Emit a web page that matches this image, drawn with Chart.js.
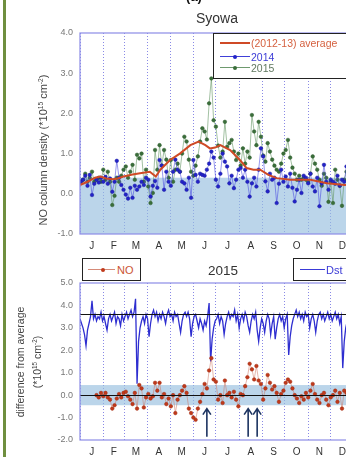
<!DOCTYPE html>
<html>
<head>
<meta charset="utf-8">
<script src="https://cdn.jsdelivr.net/npm/chart.js@4.4.0/dist/chart.umd.min.js"></script>
<style>
body { margin:0; width:346px; height:457px; overflow:hidden; position:relative; background:#fff; font-family:"Liberation Sans", Arial, sans-serif; }
canvas { position:absolute; left:0; }
.t { position:absolute; white-space:nowrap; }
.c { transform:translate(-50%,-50%); }
.rot { transform:translate(-50%,-50%) rotate(-90deg); }
.box { position:absolute; box-sizing:border-box; border:1.5px solid #222; background:#fff; }
.ln { position:absolute; }
.dot { position:absolute; width:4px; height:4px; border-radius:50%; }
.lt { position:absolute; white-space:nowrap; transform:translateY(-50%); }
sup { font-size:0.6em; vertical-align:0.6em; line-height:0; }
</style>
</head>
<body>
<canvas id="topChart" width="372" height="256" style="top:0"></canvas>
<canvas id="botChart" width="372" height="201" style="top:256px"></canvas>

<div style="position:absolute; left:3px; top:0; width:2.5px; height:457px; background:#6f8f3f"></div>
<div class="t" style="left:194px; top:-11px; transform:translateX(-50%); font-size:13px; font-weight:bold; color:#111">(a)</div>
<div class="t c" style="left:217px; top:18px; font-size:14px; color:#333">Syowa</div>
<div class="t rot" style="left:43px; top:150px; font-size:11px; color:#444">NO column density (*10<sup>15</sup> cm<sup>-2</sup>)</div>

<div class="box" style="left:213px; top:33px; width:150px; height:46px;">
  <div class="ln" style="left:6px; top:7.5px; width:30px; height:2.5px; background:#cf4a26"></div>
  <div class="lt" style="left:37px; top:9px; font-size:10.5px; color:#d5603f">(2012-13) average</div>
  <div class="ln" style="left:6px; top:22px; width:30px; height:1px; background:#4040d8"></div>
  <div class="dot" style="left:19px; top:20.5px; background:#2323c8"></div>
  <div class="lt" style="left:37px; top:22.5px; font-size:10.5px; color:#3b3bd6">2014</div>
  <div class="ln" style="left:6px; top:33px; width:30px; height:1px; background:#6e9a6e"></div>
  <div class="dot" style="left:19px; top:31.5px; background:#3a6e3a"></div>
  <div class="lt" style="left:37px; top:33.5px; font-size:10.5px; color:#607860">2015</div>
</div>

<div class="box" style="left:82px; top:258px; width:59px; height:23px;">
  <div class="ln" style="left:4.5px; top:10px; width:27px; height:1px; background:#d58a78"></div>
  <div class="dot" style="left:17.5px; top:8.5px; background:#c0391b"></div>
  <div class="lt" style="left:34px; top:10.5px; font-size:11px; color:#cc5533">NO</div>
</div>
<div class="t c" style="left:223px; top:270px; font-size:13.5px; color:#333">2015</div>
<div class="box" style="left:293px; top:258px; width:80px; height:23px;">
  <div class="ln" style="left:5.5px; top:10px; width:25px; height:1px; background:#3a3ad8"></div>
  <div class="lt" style="left:32px; top:10.5px; font-size:11px; color:#3b3bd6">Dst</div>
</div>

<div class="t rot" style="left:20px; top:362px; font-size:10.5px; color:#444">difference from average</div>
<div class="t rot" style="left:37px; top:362px; font-size:10.5px; color:#444">(*10<sup>15</sup> cm<sup>-2</sup>)</div>

<script>
Chart.defaults.font.family = '"Liberation Sans", Arial, sans-serif';

const monthStarts = [0, 31, 59, 90, 120, 151, 181, 212, 243, 273, 304, 334, 365];
const monthMids = [15.5, 45, 74.5, 105, 135.5, 166, 196.5, 227.5, 258, 288.5, 319, 349.5];
const monthLabels = ['J', 'F', 'M', 'A', 'M', 'J', 'J', 'A', 'S', 'O', 'N', 'D'];

// (2012-13) average, day of year / value
const avgDays = [0, 10, 20, 27, 35, 44, 50, 58, 70, 80, 93, 101, 107, 120, 133, 147, 158, 167, 173, 180, 187, 200, 213, 222, 231, 240, 251, 262, 280, 307, 329, 353, 365];
const avgVals = [0.22, 0.3, 0.4, 0.43, 0.38, 0.36, 0.38, 0.43, 0.48, 0.51, 0.55, 0.43, 0.6, 0.84, 1.0, 1.21, 1.3, 1.21, 1.13, 1.15, 1.21, 1.09, 0.84, 0.64, 0.6, 0.6, 0.47, 0.39, 0.35, 0.35, 0.26, 0.22, 0.25];

// NO column density, one value every 3 days from day 1
const noStart = 1, noStep = 3;
const no2014 = [
  0.30, 0.35, 0.45, 0.20, 0.47, -0.03, 0.25, 0.35, 0.28, 0.40,
  0.30, 0.42, 0.25, 0.38, 0.05, 0.30, 0.82, 0.40, 0.22, 0.10,
  -0.02, -0.12, 0.15, -0.10, 0.20, 0.10, 0.18, 0.30, 0.22, 0.40,
  0.35, -0.07, 0.20, 0.32, 0.15, 0.84, 0.70, 0.10, 0.55, 0.30,
  0.20, 0.55, 0.85, 0.60, 0.55, 0.30, 0.26, 0.10, 0.40, -0.10,
  0.84, 0.47, 0.30, 0.50, 0.47, 0.45, 0.60, 0.75, 1.05, 0.90,
  0.35, 0.18, 0.50, 1.00, 0.80, 0.68, 0.26, 0.45, 0.14, 0.35,
  0.60, 0.64, 0.40, 0.60, 0.30, -0.07, 0.26, 0.40, 0.18, 0.60,
  1.13, 0.93, 0.31, 0.06, 0.50, 0.35, 0.40, -0.23, 0.25, 0.60,
  0.30, 0.43, 0.18, 0.50, 0.15, -0.19, 0.10, 0.35, 0.02, 0.45,
  0.40, 0.26, 0.50, 0.18, 0.06, 0.40, -0.31, 0.26, 0.72, 0.30,
  0.10, 0.35, 0.30, 0.25, 0.45, 0.20, 0.35, 0.30, 0.68, 0.40,
  0.72, 0.50
];
const no2015 = [
  0.30, 0.35, 0.50, 0.30, 0.40, 0.55, 0.30, 0.35, 0.40, 0.30,
  0.60, 0.35, 0.55, 0.30, -0.28, -0.05, 0.40, 0.30, 0.45, 0.60,
  0.68, 0.40, 0.55, 0.72, 0.35, 0.97, 0.88, 1.00, 0.30, 0.60,
  0.18, -0.23, 0.02, 1.09, 0.60, 1.21, 0.70, 1.09, 0.85, 0.40,
  0.84, 0.30, 0.60, 0.75, 0.55, 1.00, 1.42, 1.30, 0.85, 0.55,
  0.45, 0.70, 0.93, 1.30, 1.63, 1.55, 1.35, 2.25, 2.87, 1.83,
  1.67, 1.20, 0.90, 1.05, 1.79, 1.17, 1.26, 1.34, 1.05, 0.84,
  1.00, 0.70, 1.13, 0.75, 1.05, 0.90, 1.96, 1.55, 1.21, 1.79,
  1.42, 0.95, 0.80, 1.26, 1.05, 0.85, 0.70, 0.60, 0.55, 0.75,
  1.00, 1.09, 1.34, 0.90, 0.65, 0.50, 0.35, 0.45, 0.35, 0.40,
  0.35, 0.30, 0.50, 0.93, 0.75, 0.60, 0.35, 0.20, 0.50, 0.40,
  -0.20, 0.30, -0.23, 0.60, 0.35, 0.20, -0.30, 0.35, 0.55, 0.30,
  0.40, 0.25
];

// 2015 difference from average, every 3 days from day 22
const diffStart = 22, diffStep = 3;
const diff2015 = [
  0.0, -0.1, 0.1, -0.05, 0.1, -0.1, -0.2, -0.6, -0.45, -0.15,
  0.05, -0.1, 0.1, 0.15, -0.05, -0.2, -0.4, 0.1, -0.6, 0.45,
  0.3, -0.55, -0.1, 0.05, -0.15, -0.05, 0.55, 0.2, 0.55, -0.1,
  0.05, -0.4, -0.15, -0.5, 0.0, -0.8, -0.2, 0.0, 0.2, 0.4,
  0.1, -0.6, -0.8, -1.0, -1.1, -0.6, -0.3, 0.05, 0.5, 0.3,
  1.1, 1.65, 0.7, 0.6, -0.2, 0.0, -0.35, 0.65, 0.0, 0.1,
  -0.1, 0.15, -0.2, -0.5, 0.05, 0.0, 0.4, 0.8, 1.4, 1.15,
  0.7, 1.3, 0.65, 0.5, -0.2, 0.3, 0.9, 0.55, 0.25, 0.4,
  0.1, -0.3, 0.05, 0.2, 0.55, 0.7, 0.6, 0.3, 0.0, -0.15,
  -0.35, -0.05, -0.2, 0.1, -0.1, 0.2, 0.5, 0.05, -0.2, -0.35,
  0.0, 0.1, -0.2, -0.45, -0.1, 0.0, 0.2, -0.3, 0.1, -0.6,
  0.2, 0.1, -0.1, 0.15, 0.0
];

// Dst index (nT), every 2 days from day 0
const dstStart = 0, dstStep = 2;
const dst2015 = [
  -14, -29, -43, -64, -100, -50, -29, -7, 43, -14, 0, -21, -7, -14, 7, -21,
  -7, -29, -50, -14, 0, -21, -7, 7, -29, -7, -14, -36, 0, -21,
  -7, 7, -14, 0, 14, -7, 7, 50, -221, -86, -43, -21, -7, -29, 0,
  -14, -71, -29, 0, 14, -7, 7, -21, 0, -14, 7, -7, -29, 0, 14,
  -7, 0, -21, 7, -7, 0, -29, -57, -21, 0, 7, -7, 7, -14, -71, -29,
  -7, 0, -21, -43, -14, -29, -50, -21, -36, -7, 36, -150, -79, -43, -21,
  -14, 0, -29, -7, -21, -64, -29, -7, 7, -14, 0, -7, 14, -21, 0,
  -43, -14, 0, -21, 7, -7, -36, -57, -21, 0, -14, 7, -50, -86, -43, -14,
  -29, -57, -21, 0, -14, -64, -29, -7, -79, -43, -14, 0, -21, -7, -43,
  -14, 0, -129, -71, -36, -14, 0, 14, -7, 7, -14, 0, -21, 7, -7,
  0, -43, -14, 0, -21, -57, -21, 0, 7, -14, 0, -21, -7, 7, -14,
  0, -21, -7, 7, -14, 0, -29, -7, -171, -86, -43, -21, -7, -14, 0, -7
];

// marked events (arrows) in the lower panel
const arrowDays = [169, 224, 236];
const arrowFrom = -1.85, arrowTo = -0.6;

function toXY(vals, start, step) {
  return vals.map((v, i) => ({ x: start + i * step, y: v }));
}

const panelDeco = {
  id: 'panelDeco',
  beforeDatasetsDraw(chart, args, opts) {
    const { ctx, chartArea: a, scales } = chart;
    const y = scales.y;
    const yTop = y.getPixelForValue(opts.band[1]);
    const yBot = y.getPixelForValue(opts.band[0]);
    ctx.save();
    ctx.fillStyle = 'rgba(150,190,222,0.65)';
    ctx.fillRect(a.left, yTop, a.right - a.left, yBot - yTop);
    ctx.restore();
  },
  afterDatasetsDraw(chart, args, opts) {
    const { ctx, chartArea: a, scales } = chart;
    ctx.save();
    (opts.hlines || []).forEach(h => {
      const py = Math.round(scales[h.axis].getPixelForValue(h.value)) + 0.5;
      ctx.strokeStyle = '#111';
      ctx.lineWidth = 1.2;
      ctx.beginPath();
      ctx.moveTo(a.left, py);
      ctx.lineTo(a.right, py);
      ctx.stroke();
    });
    (opts.arrows || []).forEach(d => {
      const px = scales.x.getPixelForValue(d);
      const p0 = scales.y.getPixelForValue(arrowFrom);
      const p1 = scales.y.getPixelForValue(arrowTo);
      ctx.strokeStyle = '#1d3461';
      ctx.lineWidth = 1.6;
      ctx.beginPath();
      ctx.moveTo(px, p0);
      ctx.lineTo(px, p1 + 1);
      ctx.moveTo(px - 4, p1 + 6);
      ctx.lineTo(px, p1);
      ctx.lineTo(px + 4, p1 + 6);
      ctx.stroke();
    });
    ctx.strokeStyle = '#8c8ce6';
    ctx.lineWidth = 1.2;
    ctx.strokeRect(a.left, a.top, a.right - a.left, a.bottom - a.top);
    ctx.restore();
  }
};

function xAxes(labelHeight, labelPad) {
  return {
    x: {
      type: 'linear', min: 0, max: 365, position: 'bottom',
      afterBuildTicks: s => { s.ticks = monthStarts.map(v => ({ value: v })); },
      afterFit: s => { s.height = 0; },
      ticks: { display: false },
      grid: { color: '#6b6be0', lineWidth: 0.8, drawTicks: false },
      border: { display: false, dash: [1, 2] }
    },
    xl: {
      type: 'linear', min: 0, max: 365, position: 'bottom',
      afterBuildTicks: s => { s.ticks = monthMids.map(v => ({ value: v })); },
      afterFit: s => { s.height = labelHeight; },
      ticks: {
        autoSkip: false, maxRotation: 0, padding: labelPad, color: '#333',
        font: { size: 10 }, callback: (v, i) => monthLabels[i]
      },
      grid: { display: false, drawTicks: false },
      border: { display: false }
    }
  };
}

function yAxis(min, max) {
  return {
    type: 'linear', min: min, max: max, position: 'left',
    afterFit: s => { s.width = 80; },
    ticks: { stepSize: 1, padding: 7, color: '#777', font: { size: 9 }, callback: v => v.toFixed(1) },
    grid: { display: false, drawTicks: false },
    border: { display: false }
  };
}

let chart_top = new Chart(document.getElementById('topChart').getContext('2d'), {
  type: 'line',
  data: {
    datasets: [{
      label: '(2012-13) average',
      data: avgDays.map((d, i) => ({ x: d, y: avgVals[i] })),
      borderColor: '#cf4a26',
      borderWidth: 2,
      pointRadius: 0,
      order: 0
    }, {
      label: '2014',
      data: toXY(no2014, noStart, noStep),
      borderColor: 'rgba(70,70,225,0.8)',
      borderWidth: 0.7,
      pointRadius: 1.8,
      pointBackgroundColor: '#2323c8',
      pointBorderColor: '#1a1aa0',
      pointBorderWidth: 0.5,
      order: 1
    }, {
      label: '2015',
      data: toXY(no2015, noStart, noStep),
      borderColor: 'rgba(100,150,100,0.85)',
      borderWidth: 0.7,
      pointRadius: 1.8,
      pointBackgroundColor: '#3a6e3a',
      pointBorderColor: '#2a5a2a',
      pointBorderWidth: 0.5,
      order: 2
    }]
  },
  options: {
    responsive: false,
    animation: false,
    layout: { padding: { top: 33, right: 18, left: 0, bottom: 0 } },
    scales: Object.assign(xAxes(22, 6), { y: yAxis(-1, 4) }),
    plugins: {
      legend: { display: false },
      tooltip: { enabled: false },
      panelDeco: { band: [-1, 0.4] }
    }
  },
  plugins: [panelDeco]
});

let chart_bot = new Chart(document.getElementById('botChart').getContext('2d'), {
  type: 'line',
  data: {
    datasets: [{
      label: 'NO',
      data: toXY(diff2015, diffStart, diffStep),
      borderColor: 'rgba(205,110,90,0.7)',
      borderWidth: 0.7,
      pointRadius: 1.8,
      pointBackgroundColor: '#c0391b',
      pointBorderColor: '#a02a10',
      pointBorderWidth: 0.5,
      yAxisID: 'y',
      order: 0
    }, {
      label: 'Dst',
      data: toXY(dst2015, dstStart, dstStep),
      borderColor: '#2e2ed0',
      borderWidth: 1.3,
      pointRadius: 0,
      yAxisID: 'yd',
      order: 1
    }]
  },
  options: {
    responsive: false,
    animation: false,
    layout: { padding: { top: 27, right: 18, left: 0, bottom: 0 } },
    scales: Object.assign(xAxes(17, 6), {
      y: yAxis(-2, 5),
      yd: { type: 'linear', position: 'right', display: false, min: -400, max: 100 }
    }),
    plugins: {
      legend: { display: false },
      tooltip: { enabled: false },
      panelDeco: {
        band: [-0.45, 0.45],
        hlines: [{ axis: 'y', value: 0 }, { axis: 'yd', value: 0 }],
        arrows: arrowDays
      }
    }
  },
  plugins: [panelDeco]
});
</script>
</body>
</html>
